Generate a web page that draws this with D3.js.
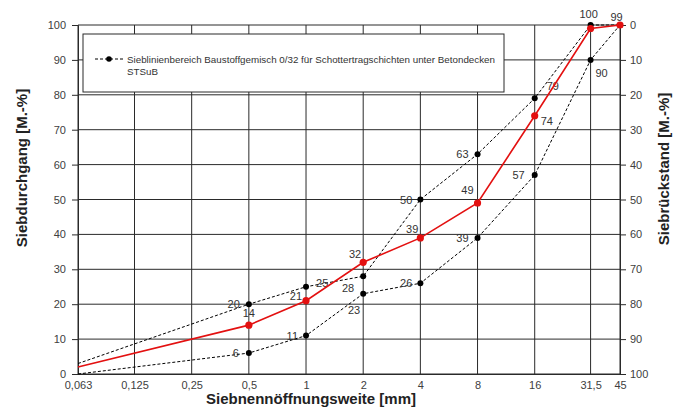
<!DOCTYPE html>
<html><head><meta charset="utf-8">
<script src="https://cdn.jsdelivr.net/npm/d3@7"></script>
<style>
body{margin:0;background:#fff;}
svg{display:block;font-family:"Liberation Sans",Arial,sans-serif;}
</style></head>
<body><svg id="c" width="684" height="408"></svg>
<script>
// ---- data ----
const sieves = [0.063, 0.125, 0.25, 0.5, 1, 2, 4, 8, 16, 31.5, 45];
const sieveLabels = ["0,063","0,125","0,25","0,5","1","2","4","8","16","31,5","45"];
const pointSieves = [0.063, 0.5, 1, 2, 4, 8, 16, 31.5, 45];
const upperValues = [3, 20, 25, 28, 50, 63, 79, 100, 100];
const lowerValues = [0, 6, 11, 23, 26, 39, 57, 90, 100];
const sampleValues = [2, 14, 21, 32, 39, 49, 74, 99, 100];
const yTicks = [0,10,20,30,40,50,60,70,80,90,100];
const legendText1 = "Sieblinienbereich Baustoffgemisch 0/32 für Schottertragschichten unter Betondecken";
const legendText2 = "STSuB";

// label placement (dx, dy, anchor) per point index; null = no label
const upperLab = [null,[-9,0,"end"],[10,-4,"start"],[-9,12,"end"],[-8,0,"end"],[-9,0,"end"],[12,-12,"start"],[-2,-11,"middle"],null];
const sampleLab = [null,[0,-12,"middle"],[-4,-5,"end"],[-2,-8,"end"],[-2,-9,"end"],[-4,-13,"end"],[6,5,"start"],[26,-11,"middle"],null];
const lowerLab = [null,[-10,0,"end"],[-8,0,"end"],[-3,16,"end"],[-8,0,"end"],[-9,0,"end"],[-10,0,"end"],[11,13,"middle"],null];

const svg = d3.select("#c");
const x = d3.scaleLog().domain([0.063,45]).range([78,620]);
const y = d3.scaleLinear().domain([0,100]).range([374,25]);
const yR = d3.scaleLinear().domain([100,0]).range([374,25]);

const grid = svg.append("g");
grid.selectAll("line.h").data(yTicks).join("line")
  .attr("x1",x(0.063)).attr("x2",x(45))
  .attr("y1",d=>y(d)).attr("y2",d=>y(d))
  .attr("stroke","#2a2a2a").attr("stroke-width",1);
grid.selectAll("line.v").data(sieves).join("line")
  .attr("x1",d=>x(d)).attr("x2",d=>x(d))
  .attr("y1",y(0)).attr("y2",y(100))
  .attr("stroke","#2a2a2a").attr("stroke-width",1);

const yl = svg.append("g").attr("transform",`translate(${x(0.063)},0)`)
  .call(d3.axisLeft(y).tickValues(yTicks).tickSize(6).tickPadding(6));
const yr = svg.append("g").attr("transform",`translate(${x(45)},0)`)
  .call(d3.axisRight(yR).tickValues(yTicks).tickSize(6).tickPadding(4));
const xa = svg.append("g").attr("transform",`translate(0,${y(0)})`)
  .call(d3.axisBottom(x).tickValues(sieves).tickFormat((d,i)=>sieveLabels[i]).tickSize(0).tickPadding(7));
[yl,yr,xa].forEach(g=>{
  g.select(".domain").attr("stroke","#2a2a2a");
  g.selectAll(".tick line").attr("stroke","#2a2a2a");
  g.selectAll("text").attr("font-size",11).attr("fill","#404040")
    .attr("font-family","'Liberation Sans',Arial,sans-serif");
});

// legend box
svg.append("rect").attr("x",83).attr("y",34).attr("width",421).attr("height",58)
  .attr("fill","#fff").attr("stroke","#2a2a2a").attr("stroke-width",1);
svg.append("line").attr("x1",95).attr("x2",123).attr("y1",59).attr("y2",59)
  .attr("stroke","#000").attr("stroke-dasharray","3,2");
svg.append("circle").attr("cx",109).attr("cy",59).attr("r",2.8).attr("fill","#000");
svg.append("text").attr("x",127).attr("y",63).attr("font-size",9.8).attr("fill","#333").text(legendText1);
svg.append("text").attr("x",127).attr("y",75).attr("font-size",9.8).attr("fill","#333").text(legendText2);

const line = d3.line().x((d,i)=>x(pointSieves[i])).y(d=>y(d));

function series(vals, color, dash, width, r, labs){
  const g = svg.append("g");
  g.append("path").datum(vals).attr("d",line)
    .attr("fill","none").attr("stroke",color).attr("stroke-width",width)
    .attr("stroke-dasharray",dash);
  g.selectAll("circle").data(vals.map((v,i)=>({v,i})).filter(d=>d.i>0)).join("circle")
    .attr("cx",d=>x(pointSieves[d.i])).attr("cy",d=>y(d.v)).attr("r",r).attr("fill",color);
  g.selectAll("text").data(vals.map((v,i)=>({v,i})).filter(d=>labs[d.i])).join("text")
    .attr("x",d=>x(pointSieves[d.i])+labs[d.i][0])
    .attr("y",d=>y(d.v)+labs[d.i][1])
    .attr("text-anchor",d=>labs[d.i][2])
    .attr("dominant-baseline","central")
    .attr("font-size",11).attr("fill","#333")
    .text(d=>d.v);
}
series(upperValues,"#000","3,2",1,3,upperLab);
series(lowerValues,"#000","3,2",1,3,lowerLab);
series(sampleValues,"#e31010",null,1.6,3.6,sampleLab);

// axis titles
svg.append("text").attr("transform","translate(27,168) rotate(-90)")
  .attr("text-anchor","middle").attr("font-size",15).attr("font-weight","bold").attr("fill","#222")
  .text("Siebdurchgang [M.-%]");
svg.append("text").attr("transform","translate(669,169) rotate(-90)")
  .attr("text-anchor","middle").attr("font-size",15).attr("font-weight","bold").attr("fill","#222")
  .text("Siebrückstand [M.-%]");
svg.append("text").attr("x",311).attr("y",404)
  .attr("text-anchor","middle").attr("font-size",15).attr("font-weight","bold").attr("fill","#222")
  .text("Siebnennöffnungsweite [mm]");
</script></body></html>
